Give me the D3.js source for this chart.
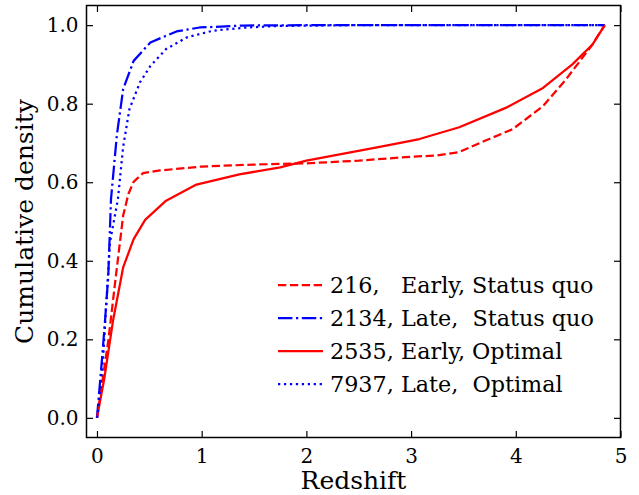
<!DOCTYPE html>
<html><head><meta charset="utf-8">
<script src="https://cdn.jsdelivr.net/npm/d3@7"></script>
<style>body{margin:0;background:#fff}svg{display:block}text{font-family:"DejaVu Serif",serif;fill:#000}</style>
</head><body><svg id="c" width="639" height="495"></svg>
<script>
// Data
const earlySQ_x = [0, 0.05, 0.11, 0.18, 0.25, 0.3, 0.35, 0.44, 0.6, 1.0, 1.5, 2.0, 2.5, 3.0, 3.25, 3.46, 3.7, 3.97, 4.26, 4.48, 4.73, 4.85];
const earlySQ_y = [0, 0.09, 0.2, 0.36, 0.515, 0.57, 0.601, 0.623, 0.63, 0.64, 0.645, 0.648, 0.655, 0.665, 0.668, 0.677, 0.705, 0.735, 0.794, 0.862, 0.95, 1.0];
const lateSQ_x = [0, 0.045, 0.076, 0.108, 0.134, 0.19, 0.25, 0.35, 0.51, 0.76, 0.98, 1.4, 2.0, 3.0, 4.0, 4.85];
const lateSQ_y = [0, 0.14, 0.244, 0.362, 0.557, 0.72, 0.837, 0.909, 0.956, 0.984, 0.994, 0.999, 1.0, 1.0, 1.0, 1.0];
const earlyOpt_x = [0, 0.07, 0.155, 0.25, 0.35, 0.46, 0.66, 0.95, 1.36, 1.75, 2.0, 2.7, 3.08, 3.46, 3.91, 4.26, 4.54, 4.73, 4.85];
const earlyOpt_y = [0, 0.1, 0.25, 0.383, 0.455, 0.504, 0.553, 0.594, 0.62, 0.638, 0.655, 0.69, 0.71, 0.74, 0.79, 0.84, 0.9, 0.95, 1.0];
const lateOpt_x = [0, 0.013, 0.06, 0.09, 0.124, 0.2, 0.25, 0.31, 0.41, 0.51, 0.66, 0.86, 1.11, 1.43, 1.75, 2.5, 3.5, 4.85];
const lateOpt_y = [0, 0.023, 0.158, 0.294, 0.447, 0.557, 0.69, 0.786, 0.854, 0.896, 0.939, 0.969, 0.986, 0.994, 0.998, 1.0, 1.0, 1.0];
const seriesLabels = ["216,   Early, Status quo", "2134, Late,  Status quo", "2535, Early, Optimal", "7937, Late,  Optimal"];
const seriesColors = ["#ff0000", "#0000ff", "#ff0000", "#0000ff"];
const seriesDash = ["8.3,3.6", "14.4,3.6,2.25,3.6", null, "2.25,3.7"];
const xTicks = [0, 1, 2, 3, 4, 5];
const yTicks = [0, 0.2, 0.4, 0.6, 0.8, 1.0];

const series = [
  {x: earlySQ_x, y: earlySQ_y},
  {x: lateSQ_x, y: lateSQ_y},
  {x: earlyOpt_x, y: earlyOpt_y},
  {x: lateOpt_x, y: lateOpt_y}
];

const L = 86.5, R = 620.5, T = 5.5, B = 437.5;
const LW = 2.25;
const svg = d3.select("#c");
const x = d3.scaleLinear().domain([-0.1, 5.0]).range([L, R]);
const y = d3.scaleLinear().domain([-0.05, 1.05]).range([B, T]);

svg.append("defs").append("clipPath").attr("id", "clip")
  .append("rect").attr("x", L).attr("y", T).attr("width", R - L).attr("height", B - T);

const line = d3.line().x(d => x(d[0])).y(d => y(d[1]));
const g = svg.append("g").attr("clip-path", "url(#clip)");
series.forEach((s, i) => {
  const pts = s.x.map((v, j) => [v, s.y[j]]);
  g.append("path").attr("d", line(pts)).attr("fill", "none")
    .attr("stroke", seriesColors[i]).attr("stroke-width", LW)
    .attr("stroke-dasharray", seriesDash[i]).attr("stroke-linejoin", "round");
});

// axes
const tickLen = 6.5;
const xb = svg.append("g").attr("transform", `translate(0,${B})`)
  .call(d3.axisBottom(x).tickValues(xTicks).tickFormat(d3.format("d")).tickSizeInner(-tickLen).tickSizeOuter(0).tickPadding(11));
const xt = svg.append("g").attr("transform", `translate(0,${T})`)
  .call(d3.axisTop(x).tickValues(xTicks).tickFormat("").tickSizeInner(-tickLen).tickSizeOuter(0));
const yl = svg.append("g").attr("transform", `translate(${L},0)`)
  .call(d3.axisLeft(y).tickValues(yTicks).tickFormat(d3.format(".1f")).tickSizeInner(-tickLen).tickSizeOuter(0).tickPadding(8));
const yr = svg.append("g").attr("transform", `translate(${R},0)`)
  .call(d3.axisRight(y).tickValues(yTicks).tickFormat("").tickSizeInner(-tickLen).tickSizeOuter(0));
[xb, xt, yl, yr].forEach(a => {
  a.select(".domain").remove();
  a.selectAll(".tick line").attr("stroke", "#000").attr("stroke-width", 1.2);
  a.selectAll("text").attr("font-family", "DejaVu Serif").attr("font-size", 20).attr("fill", "#000");
});
svg.append("rect").attr("x", L).attr("y", T).attr("width", R - L).attr("height", B - T)
  .attr("fill", "none").attr("stroke", "#000").attr("stroke-width", 1.5);

svg.append("text").attr("x", (L + R) / 2).attr("y", 488.5).attr("text-anchor", "middle")
  .attr("font-size", 25).text("Redshift");
svg.append("text").attr("transform", `translate(33,${(T + B) / 2}) rotate(-90)`).attr("text-anchor", "middle")
  .attr("font-size", 25).text("Cumulative density");

// legend
const leg = svg.append("g");
const legY0 = 285, legDy = 33;
seriesLabels.forEach((lab, i) => {
  const yy = legY0 + i * legDy;
  leg.append("line").attr("x1", 278).attr("x2", 323).attr("y1", yy).attr("y2", yy)
    .attr("stroke", seriesColors[i]).attr("stroke-width", LW).attr("stroke-dasharray", seriesDash[i]);
  leg.append("text").attr("x", 330).attr("y", yy).attr("dy", "0.35em")
    .attr("font-size", 22.3).style("white-space", "pre").text(lab);
});
</script></body></html>
